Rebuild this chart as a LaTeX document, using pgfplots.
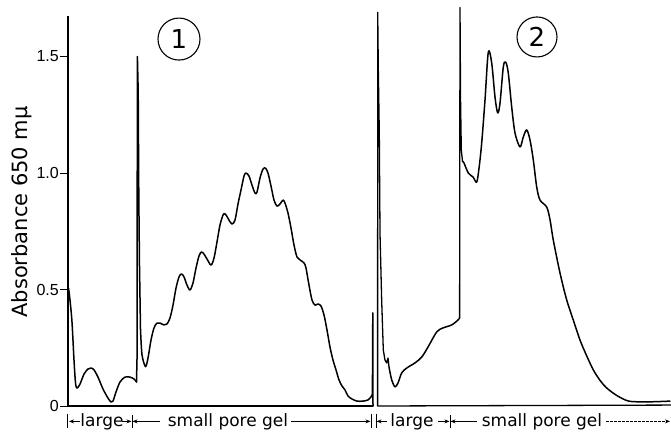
\documentclass[border=0pt]{standalone}
\usepackage{pgfplots}
\pgfplotsset{compat=1.18}
\usepackage{fontspec}
\setmainfont{DejaVu Sans}
\newfontfamily\tickfont{Liberation Sans}
\usetikzlibrary{arrows.meta}
\begin{document}
\begin{tikzpicture}[x=1pt,y=1pt]
\useasboundingbox (-68pt,-28pt) rectangle (603pt,406pt);
\begin{axis}[
  at={(0,0)}, anchor=south west,
  scale only axis, width=603pt, height=390pt,
  xmin=68, xmax=671, ymin=0, ymax=1.674,
  clip=false,
  axis x line=none, axis y line=left,
  y axis line style={-, line width=1.2pt},
  ytick={0,0.5,1,1.5}, yticklabels={0,0.5,1.0,1.5},
  tick align=outside, major tick length=8pt,
  every tick/.style={line width=1pt, black},
  /pgf/number format/assume math mode=true,
  yticklabel style={font=\tickfont\fontsize{16}{16}\selectfont, inner sep=1pt},
  curve/.style={black, line width=1.5pt, line join=round, line cap=round},
]
% baselines
\addplot[black, line width=1.3pt] coordinates {(68,0) (372.6,0)};
\addplot[black, line width=1.3pt] coordinates {(377.4,0) (671,0.004)};
% panel 1
\addplot[curve, smooth, tension=0.5] coordinates {
(68.5,0.506) (70,0.455) (72,0.36) (74,0.197) (75.5,0.1) (77,0.077) (80,0.094)
(84,0.137) (88,0.159) (91,0.163) (94,0.155) (98,0.124) (103,0.073) (108,0.034)
(111,0.017) (113,0.021) (116,0.06) (120,0.103) (125,0.124) (130,0.124) (134,0.116)
(136.5,0.103)
};
\addplot[curve] coordinates {
(136.5,0.103) (137,0.2) (137.4,1.5) (138.2,1.35) (138.8,0.9) (139.5,0.6) (140.5,0.33)
};
\addplot[curve, smooth, tension=0.5] coordinates {
(140.5,0.33) (142,0.22) (145.5,0.169) (148,0.206) (151,0.283) (154,0.335) (157,0.356) (160,0.356)
(164,0.348) (167,0.352) (170,0.378) (173,0.433) (176,0.506) (179,0.554) (181.5,0.567)
(184,0.554) (187,0.519) (190,0.498) (193,0.528) (196,0.592) (199,0.644) (201.5,0.661)
(204,0.652) (207,0.631) (211,0.605) (214,0.635) (217,0.704) (220,0.777) (223.5,0.824)
(226,0.82) (229,0.798) (232,0.781) (235,0.798) (238,0.867) (241,0.927) (244,0.987)
(246,1.0) (249,0.987) (252,0.948) (255,0.914) (257,0.918) (260,0.979) (263,1.017)
(265.5,1.021) (268,1.0) (271,0.944) (274,0.884) (277,0.858) (280,0.867) (283,0.884)
(285,0.871) (288,0.828) (291,0.764) (294,0.691) (297,0.639) (300,0.627) (304,0.614)
(306,0.592) (309,0.519) (312,0.455) (315,0.433) (318,0.438) (321,0.429) (324,0.391)
(327,0.326) (330,0.253) (333,0.197) (336,0.155) (339,0.112) (342,0.086) (345,0.069)
(348,0.043) (352,0.03) (357,0.021) (363,0.021) (368,0.026) (371,0.039)
};
\addplot[curve] coordinates {(371,0.039) (372.4,0.05) (372.8,0.40) (373,0)};
% panel 2
\addplot[black, line width=1.3pt, line join=round] coordinates {
(377.6,0) (377.7,1.69) (378.3,1.45) (379.3,1.17) (380,0.74) (381.7,0.45) (383.3,0.24)
(385,0.197) (386.7,0.185) (388,0.206) (389,0.167)
};
\addplot[curve, smooth, tension=0.5] coordinates {
(389,0.167) (391.7,0.112) (395,0.082) (398,0.099)
(401.7,0.142) (406.7,0.163) (415,0.185) (421.7,0.21) (428,0.253) (436.7,0.318)
(443,0.335) (451.7,0.348) (458,0.369) (459.6,0.378)
};
\addplot[black, line width=1.3pt, line join=round] coordinates {
(459.6,0.378) (460,1.71) (460.6,1.3) (461.3,1.1) (462.5,1.05)
};
\addplot[curve, smooth, tension=0.5] coordinates {
(462.5,1.05) (464,1.043) (468.3,1.0) (473,0.983) (476.7,0.961) (479,1.02) (481.7,1.129)
(485,1.313) (488.3,1.519) (491.7,1.472) (495,1.326) (497.7,1.258) (500,1.30)
(503.3,1.455) (505.7,1.476) (508.3,1.429) (511.7,1.283) (515,1.172) (520,1.112)
(523.3,1.155) (526.7,1.185) (530,1.142) (533.3,1.056) (536.7,0.94) (540,0.884)
(546.7,0.854) (550,0.8) (553.3,0.712) (560,0.571) (566.7,0.455) (573.3,0.369)
(580,0.283) (586.7,0.215) (593.3,0.155) (600,0.11) (606,0.08) (613,0.056)
(620,0.037) (630,0.02) (650,0.018) (670,0.021)
};
% circled labels
\node[circle, draw, line width=1.1pt, minimum size=42pt, inner sep=0pt,
  font=\fontsize{26}{26}\selectfont] at (axis cs:179,1.575) {1};
\node[circle, draw, line width=1.1pt, minimum size=40pt, inner sep=0pt,
  font=\fontsize{26}{26}\selectfont] at (axis cs:537,1.584) {2};
% y label
\node[rotate=90, font=\fontsize{21}{21}\selectfont] at (axis cs:22,0.833) {Absorbance 650 mμ};
% bottom annotations
\begin{scope}[line width=1pt, font=\fontsize{17}{17}\selectfont]
\draw (axis cs:68,-0.034) -- (axis cs:68,-0.094);
\draw[-{Stealth[length=5pt,width=4pt]}] (axis cs:80,-0.066) -- (axis cs:69,-0.066);
\node[anchor=base] at (axis cs:102,-0.09) {large};
\draw[-{Stealth[length=5pt,width=4pt]}] (axis cs:122,-0.066) -- (axis cs:131.5,-0.066);
\draw (axis cs:132,-0.038) -- (axis cs:132,-0.094);
\draw[-{Stealth[length=5pt,width=4pt]}] (axis cs:160,-0.066) -- (axis cs:132.5,-0.066);
\node[anchor=base] at (axis cs:228,-0.09) {small pore gel};
\draw[-{Stealth[length=5pt,width=4pt]}] (axis cs:291,-0.066) -- (axis cs:370.5,-0.066);
\draw (axis cs:371,-0.034) -- (axis cs:371,-0.094);
\draw (axis cs:376,-0.034) -- (axis cs:376,-0.094);
\draw[-{Stealth[length=5pt,width=4pt]}] (axis cs:387,-0.066) -- (axis cs:376.5,-0.066);
\node[anchor=base] at (axis cs:412,-0.09) {large};
\draw[-{Stealth[length=5pt,width=4pt]}] (axis cs:438,-0.066) -- (axis cs:449.5,-0.066);
\draw (axis cs:450,-0.038) -- (axis cs:450,-0.094);
\draw[-{Stealth[length=5pt,width=4pt]}] (axis cs:477,-0.066) -- (axis cs:450.5,-0.066);
\node[anchor=base] at (axis cs:542,-0.09) {small pore gel};
\draw[dashed, dash pattern=on 3pt off 1pt, -{Stealth[length=5pt,width=4pt]}] (axis cs:606,-0.066) -- (axis cs:670,-0.066);
\end{scope}
\end{axis}
\end{tikzpicture}
\end{document}
